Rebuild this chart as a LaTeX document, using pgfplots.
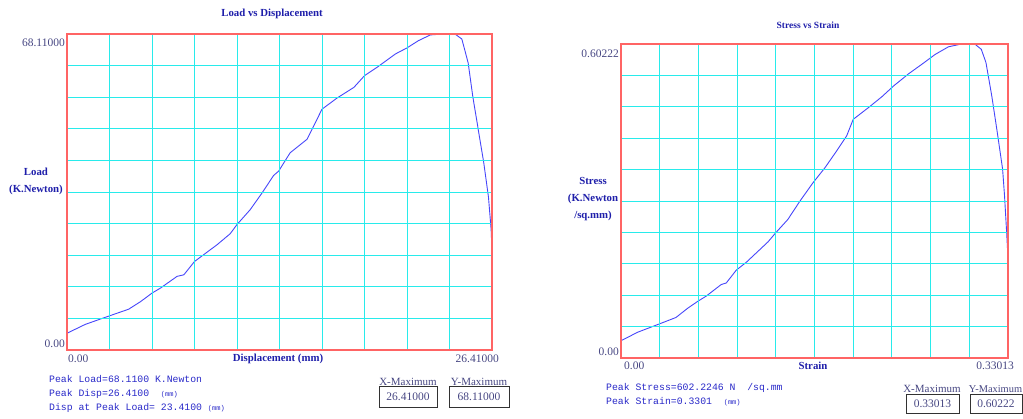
\documentclass[border=0pt]{standalone}
\usepackage{pgfplots}
\pgfplotsset{compat=1.18}
\usepackage{fontspec}
\setmainfont{Liberation Serif}
\setmonofont{Liberation Mono}
\definecolor{titlecol}{RGB}{30,30,170}
\definecolor{tickcol}{RGB}{70,70,130}
\definecolor{curvecol}{RGB}{70,70,250}
\definecolor{gridcol}{RGB}{40,235,235}
\definecolor{framecol}{RGB}{255,100,100}
\definecolor{monocol}{RGB}{40,40,200}
\definecolor{boxcol}{RGB}{50,50,50}
\newcommand{\tk}{\fontsize{11.5}{13}\selectfont\color{tickcol}}
\newcommand{\lb}{\fontsize{10.8}{17}\selectfont\bfseries\color{titlecol}}
\newcommand{\mo}{\fontsize{9.8}{12}\selectfont\ttfamily\color{monocol}}
\newcommand{\sm}{\fontsize{7}{8}\selectfont}
\pgfplotsset{
  chartstyle/.style={
    scale only axis,
    anchor=south west,
    axis on top=true,
    axis line style={framecol, line width=1.1pt},
    grid=major,
    grid style={gridcol, line width=0.9pt},
    major tick length=0pt,
    xticklabels={}, yticklabels={},
    clip=false,
  }
}
\pgfplotstableread{
x y
0 3.61
1.136 5.52
2.641 7.36
3.829 8.79
4.569 10.42
5.282 12.26
5.810 13.35
6.840 15.87
7.263 16.21
7.923 19.07
8.504 20.57
9.323 22.68
10.141 25.06
10.564 27.04
11.383 30.24
12.122 33.85
12.835 37.60
13.152 38.55
13.865 42.50
14.922 45.43
15.846 51.90
16.770 54.28
17.827 56.60
18.487 59.12
19.253 60.89
20.415 63.82
21.128 65.11
21.841 66.68
22.581 67.91
23.41 68.11
24.139 68.04
24.535 67.02
24.720 64.63
24.930 61.84
25.220 54.56
25.580 47.00
25.900 40.30
26.190 32.97
26.357 25.88
26.41 21.11
}\loaddata
\pgfplotstableread{
x y
0 0.0331
0.01420 0.0494
0.03301 0.0656
0.04688 0.0777
0.05711 0.0958
0.06570 0.1090
0.07263 0.1186
0.08550 0.1409
0.08980 0.1439
0.09838 0.1686
0.10696 0.1837
0.12545 0.2228
0.13205 0.2403
0.14229 0.2656
0.15252 0.3005
0.16374 0.3360
0.17398 0.3649
0.18388 0.3969
0.19247 0.4258
0.19808 0.4577
0.21095 0.4800
0.22251 0.5010
0.23241 0.5215
0.24529 0.5450
0.25651 0.5631
0.26807 0.5823
0.27929 0.5968
0.29051 0.60222
0.30207 0.6016
0.30735 0.5920
0.31131 0.5667
0.31626 0.5029
0.32056 0.4390
0.32551 0.3625
0.32716 0.3113
0.32914 0.2343
0.33013 0.1897
}\ssdata
\begin{document}
\begin{tikzpicture}[x=1pt,y=1pt]
\useasboundingbox (0,0) rectangle (1023,419);
% ---------- left chart ----------
\begin{axis}[chartstyle,
  at={(67pt,69pt)}, width=425pt, height=316pt,
  xmin=0, xmax=26.41, ymin=0, ymax=68.11,
  xtick={2.641,5.282,7.923,10.564,13.205,15.846,18.487,21.128,23.769},
  ytick={6.811,13.622,20.433,27.244,34.055,40.866,47.677,54.488,61.299},
]
\addplot[curvecol, line width=0.9pt] table[x=x,y=y]{\loaddata};
\end{axis}
\node[font=\lb] at (272,405) {Load vs Displacement};
\node[font=\tk, anchor=east, inner sep=1pt] at (66,376) {68.11000};
\node[font=\tk, anchor=east, inner sep=1pt] at (66,75) {0.00};
\node[font=\tk, anchor=west, inner sep=1pt] at (67,60) {0.00};
\node[font=\tk, anchor=east, inner sep=1pt] at (500,60) {26.41000};
\node[font=\lb] at (278,60) {Displacement (mm)};
\node[font=\lb, align=center] at (36,237.5) {Load\\(K.Newton)};
\node[anchor=base west, inner sep=0pt] at (49,36) {\mo Peak Load=68.1100 K.Newton};
\node[anchor=base west, inner sep=0pt] at (49,22) {\mo Peak Disp=26.4100\ \ {\sm(mm)}};
\node[anchor=base west, inner sep=0pt] at (49,8) {\mo Disp at Peak Load= 23.4100 {\sm(mm)}};
\node[font=\fontsize{11}{12}\selectfont\color{tickcol}, inner sep=0pt] at (408,37) {X-Maximum};
\draw[boxcol, line width=0.9pt] (379,12) rectangle (437,33);
\node[font=\tk] at (408,22.5) {26.41000};
\node[font=\fontsize{11}{12}\selectfont\color{tickcol}, inner sep=0pt] at (479,37) {Y-Maximum};
\draw[boxcol, line width=0.9pt] (449,12) rectangle (509,33);
\node[font=\tk] at (479,22.5) {68.11000};
% ---------- right chart ----------
\begin{axis}[chartstyle,
  at={(621pt,61pt)}, width=387pt, height=314pt,
  xmin=0, xmax=0.33013, ymin=0, ymax=0.60222,
  xtick={0.033013,0.066026,0.099039,0.132052,0.165065,0.198078,0.231091,0.264104,0.297117},
  ytick={0.060222,0.120444,0.180666,0.240888,0.30111,0.361332,0.421554,0.481776,0.541998},
]
\addplot[curvecol, line width=0.9pt] table[x=x,y=y]{\ssdata};
\end{axis}
\node[font=\fontsize{9.5}{11}\selectfont\bfseries\color{titlecol}] at (808,394) {Stress vs Strain};
\node[font=\tk, anchor=east, inner sep=1pt] at (620,365) {0.60222};
\node[font=\tk, anchor=east, inner sep=1pt] at (620,67) {0.00};
\node[font=\tk, anchor=west, inner sep=1pt] at (623,53) {0.00};
\node[font=\tk, anchor=east, inner sep=1pt] at (1015,53) {0.33013};
\node[font=\lb] at (813,53) {Strain};
\node[font=\lb, align=center] at (593,220) {Stress\\(K.Newton\\/sq.mm)};
\node[anchor=base west, inner sep=0pt] at (606,28) {\mo Peak Stress=602.2246 N\ \ /sq.mm};
\node[anchor=base west, inner sep=0pt] at (606,14) {\mo Peak Strain=0.3301\ \ {\sm(mm)}};
\node[font=\fontsize{11}{12}\selectfont\color{tickcol}, inner sep=0pt] at (932,30) {X-Maximum};
\draw[boxcol, line width=0.9pt] (906,6) rectangle (959,25);
\node[font=\tk] at (932.5,15.5) {0.33013};
\node[font=\fontsize{10.4}{12}\selectfont\color{tickcol}, inner sep=0pt] at (995.5,30) {Y-Maximum};
\draw[boxcol, line width=0.9pt] (970,6) rectangle (1022.5,25);
\node[font=\tk] at (996,15.5) {0.60222};
\end{tikzpicture}
\end{document}
